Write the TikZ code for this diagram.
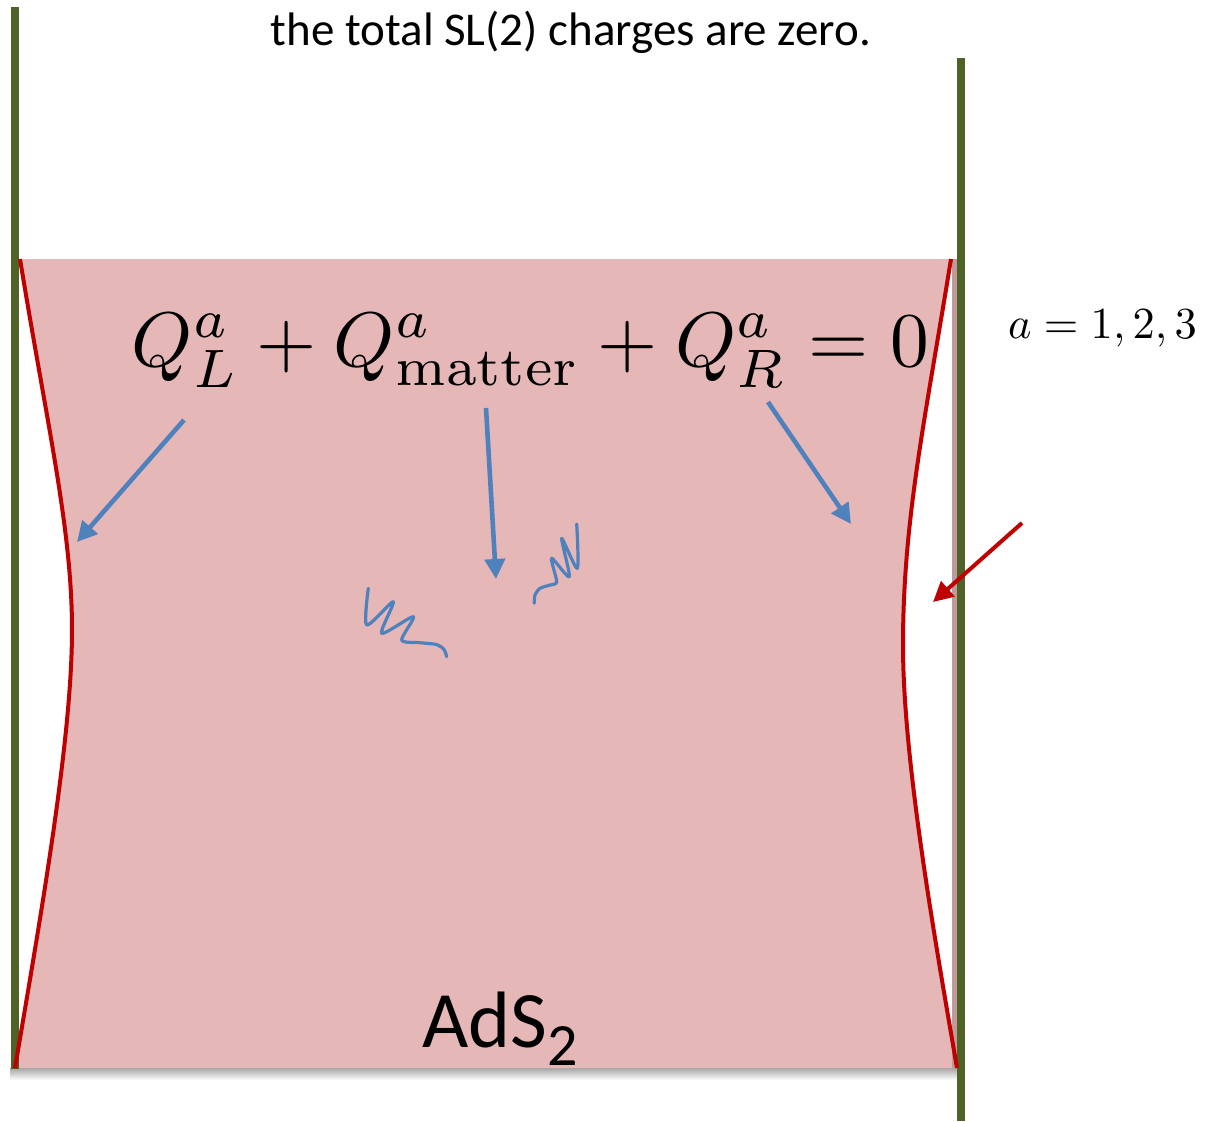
\documentclass[tikz,border=0pt]{standalone}
\usepackage{fontspec}
\usepackage{graphicx}
\usetikzlibrary{arrows.meta}
\newfontfamily\calib{Carlito}
\definecolor{pinkfill}{HTML}{E5B7B7}
\definecolor{curvered}{HTML}{C00000}
\definecolor{arrowblue}{HTML}{4F81BD}
\definecolor{wallgreen}{HTML}{4F6228}
\definecolor{edgebrown}{HTML}{BF9A9A}
\tikzset{
  wall/.style={draw=wallgreen, line width=3.8pt},
  bdy/.style={draw=curvered, line width=2pt},
  bluearrow/.style={draw=arrowblue, line width=2.3pt, -{Triangle[length=10pt,width=10pt]}},
  redarrow/.style={draw=curvered, line width=2pt, -{Triangle[length=10pt,width=10pt]}},
  squiggle/.style={draw=arrowblue, line width=1.6pt, line cap=round, line join=round},
  lbl/.style={inner sep=0pt, anchor=base, text=black}
}
\begin{document}
\begin{tikzpicture}[x=0.5pt, y=-0.5pt]
\useasboundingbox (0,0) rectangle (1205,1121);
\fill[white] (0,0) rectangle (1205,1121);
% shadow under the region
\shade[top color=black!35, bottom color=white] (10,1068) rectangle (958,1080);
% pink region between the two boundary curves
\fill[pinkfill] (20,259) .. controls (48,430) and (72,530) .. (72,630)
  .. controls (72,740) and (40,920) .. (15,1068)
  -- (957,1068)
  .. controls (935,940) and (903,760) .. (903,645)
  .. controls (903,520) and (925,420) .. (951,259)
  -- cycle;
\fill[edgebrown] (952,259) rectangle (957,1068);
% walls
\draw[wall] (15,7) -- (15,1069);
\draw[wall] (961,58) -- (961,1121);
% boundary curves
\draw[bdy] (20,259) .. controls (48,430) and (72,530) .. (72,630)
  .. controls (72,740) and (40,920) .. (15,1068);
\draw[bdy] (951,259) .. controls (925,420) and (903,520) .. (903,645)
  .. controls (903,760) and (935,940) .. (957,1068);
% texts
\node[lbl] (title) at (571,45) {\calib\fontsize{23.5pt}{28pt}\selectfont the total SL(2) charges are zero.};
\node[lbl] (eq) at (530.5,366) {\scalebox{3.87}{$Q^a_L+Q^a_{\mathrm{matter}}+Q^a_R=0$}};
\node[lbl] (arange) at (1102.5,338) {\scalebox{2.22}{$a=1,2,3$}};
\node[lbl] (ads) at (500,1047) {\calib\fontsize{40pt}{48pt}\selectfont AdS\raisebox{-9pt}{\fontsize{30pt}{36pt}\selectfont 2}};
% arrows
\coordinate (aL0) at (184,420);
\coordinate (aL1) at (77,542);
\coordinate (aM0) at (486,408);
\coordinate (aM1) at (496,579);
\coordinate (aR0) at (768,402);
\coordinate (aR1) at (851,524);
\coordinate (aX0) at (1022,523);
\coordinate (aX1) at (933,602);
\draw[bluearrow] (aL0) -- (aL1);
\draw[bluearrow] (aM0) -- (aM1);
\draw[bluearrow] (aR0) -- (aR1);
\draw[redarrow] (aX0) -- (aX1);
% squiggles
\draw[squiggle] plot[smooth, tension=0.45] coordinates {(368.3,588.3) (366.7,625) (393.3,601.7) (381.7,633.3) (413.3,616.7) (401.7,640) (420,642.7) (436.7,644.5) (444,649.5) (446.7,656.7)};
\draw[squiggle] plot[smooth, tension=0.45] coordinates {(534.3,603.3) (535,595) (540,588.3) (550,585) (556.7,581.7) (551.7,558.3) (569.3,576.7) (561.7,538.3) (577.3,568.3) (576.7,524)};
\end{tikzpicture}
\end{document}
